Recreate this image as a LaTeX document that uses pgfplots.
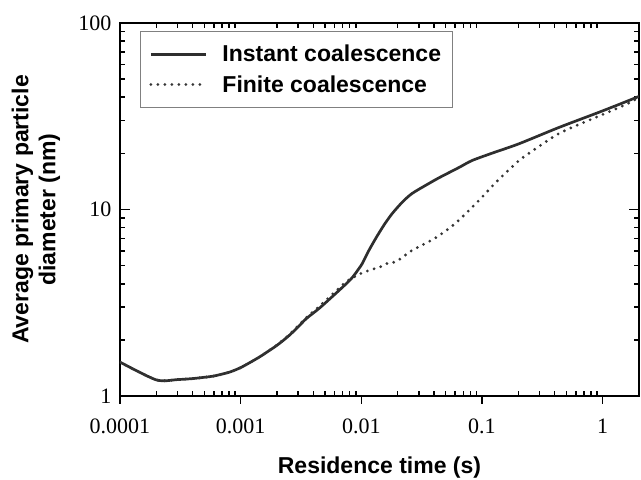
\documentclass[border=0pt]{standalone}
\usepackage{fontspec}
\setmainfont{Liberation Serif}
\newfontfamily\lsans{Liberation Sans}
\usepackage{pgfplots}
\pgfplotsset{compat=1.18}
\definecolor{solidc}{HTML}{2E2E2E}
\definecolor{dotc}{HTML}{353535}
\begin{document}
\begin{tikzpicture}
\useasboundingbox (-120pt,-84pt) rectangle (521pt,396pt);
\begin{axis}[
  at={(0,0)}, anchor=south west,
  xmode=log, ymode=log,
  scale only axis, width=519pt, height=373pt,
  xmin=1e-4, xmax=2, ymin=1, ymax=100,
  tick style={black, line width=1.6pt},
  xtick={0.0001,0.001,0.01,0.1,1},
  xticklabels={0.0001,0.001,0.01,0.1,1},
  minor xtick={2e-4,3e-4,4e-4,5e-4,6e-4,7e-4,8e-4,9e-4,
               2e-3,3e-3,4e-3,5e-3,6e-3,7e-3,8e-3,9e-3,
               2e-2,3e-2,4e-2,5e-2,6e-2,7e-2,8e-2,9e-2,
               0.2,0.3,0.4,0.5,0.6,0.7,0.8,0.9,2},
  ytick={1,10,100}, yticklabels={1,10,100},
  minor ytick={2,3,4,5,6,7,8,9,20,30,40,50,60,70,80,90},
  xtick pos=both, ytick pos=both,
  tick align=inside,
  major tick length=10pt, minor tick length=5pt,
  major x tick style={draw=none},
  axis line style={line width=2.2pt},
  tick label style={font=\fontsize{22}{26}\selectfont},
  xticklabel style={yshift=-19pt},
  yticklabel style={xshift=-5pt},
  xlabel={Residence time (s)},
  ylabel={Average primary particle\\diameter (nm)},
  label style={font=\lsans\bfseries\fontsize{23}{27}\selectfont},
  xlabel style={at={(axis description cs:0.5,-0.193)}, anchor=center},
  ylabel style={at={(axis description cs:-0.162,0.5)}, anchor=center, align=center},
  legend style={at={(0.0385,0.979)}, anchor=north west, draw=gray, line width=0.8pt,
    font=\lsans\bfseries\fontsize{23}{27}\selectfont, inner xsep=9pt, inner ysep=12pt,
    row sep=8pt, cells={anchor=west}},
  legend image code/.code={\draw[#1] (0pt,0pt) -- (55pt,0pt); \path (0pt,0pt) (68pt,0pt);},
]
\addplot[solidc, line width=2.7pt, line join=round, smooth, tension=0.45] coordinates {
(0.0001,1.52) (0.0002,1.22) (0.0003,1.225) (0.0004,1.24) (0.0005,1.26)
(0.0006,1.28) (0.0008,1.34) (0.001,1.42) (0.0013,1.56) (0.0015,1.65)
(0.002,1.87) (0.0025,2.1) (0.003,2.35) (0.0035,2.6) (0.0045,2.96)
(0.006,3.5) (0.0075,4.0) (0.0085,4.35) (0.0095,4.8) (0.0102,5.14)
(0.0115,6.0) (0.0133,7.08) (0.0155,8.3) (0.018,9.5) (0.022,11.0)
(0.0264,12.2) (0.035,13.6) (0.0441,14.8) (0.0645,16.8) (0.0826,18.3)
(0.12,20.0) (0.202,22.5) (0.432,27.5) (1,33.8) (1.87,39.7) (2,40.5)
};
\addlegendentry{Instant coalescence}
\addplot[dotc, line width=3.1pt, line cap=round, dash pattern=on 0pt off 7pt, smooth, tension=0.45] coordinates {
(0.0001,1.52) (0.0002,1.22) (0.0003,1.225) (0.0004,1.24) (0.0005,1.26)
(0.0006,1.28) (0.0008,1.34) (0.001,1.42) (0.0013,1.56) (0.0015,1.65)
(0.002,1.88) (0.0025,2.12) (0.003,2.38) (0.0035,2.63) (0.0045,3.03)
(0.006,3.6) (0.0075,4.1) (0.0087,4.35) (0.01,4.55) (0.012,4.75)
(0.0141,4.9) (0.016,5.1) (0.017,5.2) (0.019,5.22) (0.022,5.55)
(0.0264,6.04) (0.0417,7.08) (0.061,8.5) (0.0944,11.2) (0.121,13.3)
(0.138,14.5) (0.195,17.9) (0.231,19.5) (0.432,25.5) (0.81,30.5)
(1.55,36.5) (2,40.0)
};
\addlegendentry{Finite coalescence}
\end{axis}
\begin{axis}[
  at={(0,0)}, anchor=south west,
  xmode=log, ymode=log,
  scale only axis, width=519pt, height=373pt,
  xmin=1e-4, xmax=2, ymin=1, ymax=100,
  tick style={black, line width=1.6pt},
  axis line style={draw=none},
  xtick={0.0001,0.001,0.01,0.1,1},
  xticklabels={},
  minor xtick={},
  ytick=\empty,
  xtick pos=left,
  tick align=outside,
  major tick length=8pt,
  minor tick length=0pt,
]
\end{axis}
\end{tikzpicture}
\end{document}
